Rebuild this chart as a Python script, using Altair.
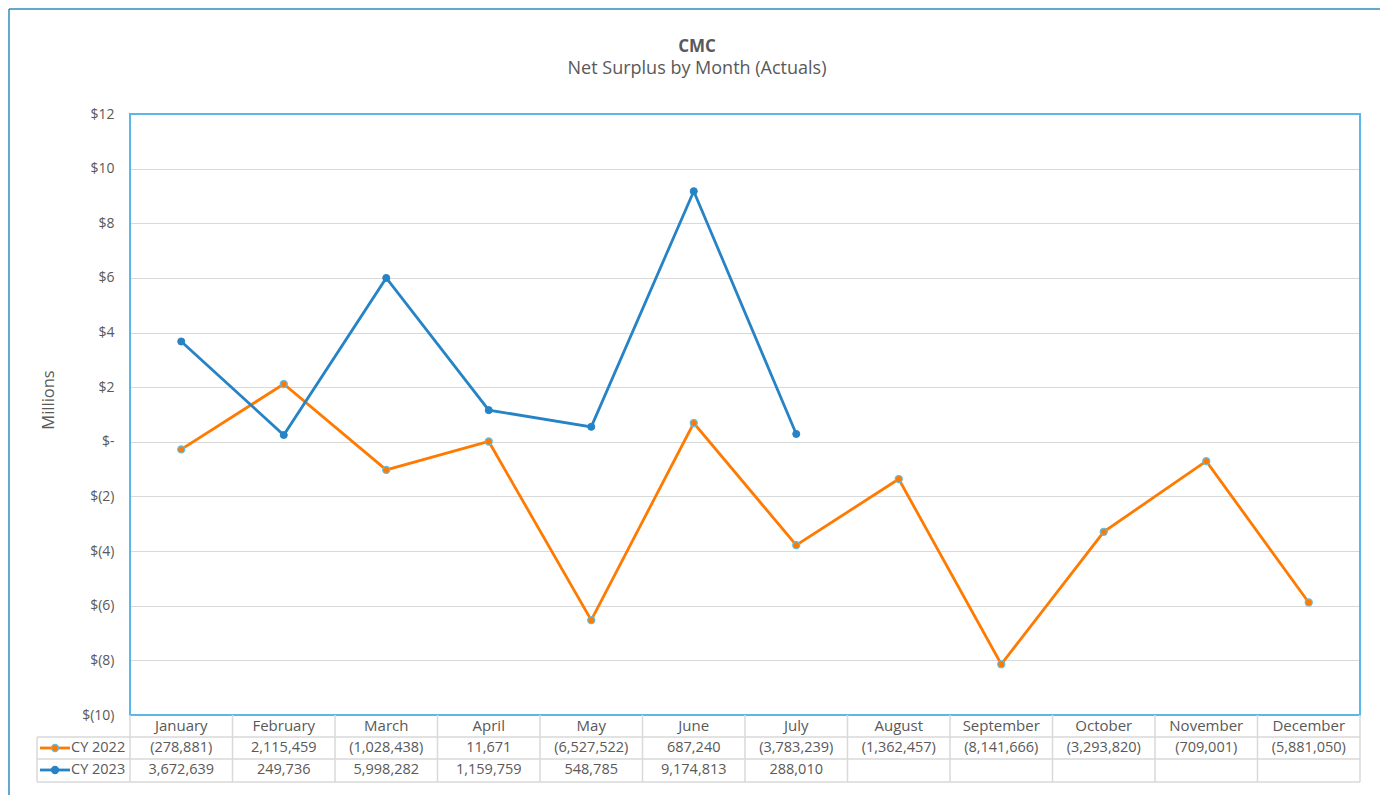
import altair as alt
import pandas as pd

months = ["January", "February", "March", "April", "May", "June", "July",
          "August", "September", "October", "November", "December"]
cy2022 = [-278881, 2115459, -1028438, 11671, -6527522, 687240, -3783239,
          -1362457, -8141666, -3293820, -709001, -5881050]
cy2023 = [3672639, 249736, 5998282, 1159759, 548785, 9174813, 288010,
          None, None, None, None, None]
series_names = ["CY 2022", "CY 2023"]
series_colors = ["#FF7A00", "#2683C6"]
y_ticks = list(range(-10, 13, 2))

FONT = "Open Sans"
TXT = "#595959"
GRID = "#D9D9D9"
W, H = 1230, 601
STEP = W / len(months)


def fmt(v):
    if v is None:
        return ""
    return f"({abs(v):,})" if v < 0 else f"{v:,}"


rows = []
for name, vals in zip(series_names, [cy2022, cy2023]):
    for m, v in zip(months, vals):
        rows.append({"month": m, "series": name,
                     "value": None if v is None else v / 1e6,
                     "label": fmt(v)})
df = pd.DataFrame(rows)
df_valid = df.dropna(subset=["value"])
df_months = pd.DataFrame({"month": months})

xenc = alt.X("month:N", sort=months, scale=alt.Scale(type="point", padding=0.5), axis=None)
one = alt.Data(values=[{"a": 1}])

lines = alt.Chart(df_valid).mark_line(strokeWidth=2.8).encode(
    x=xenc,
    y=alt.Y("value:Q", scale=alt.Scale(domain=[-10, 12], nice=False, zero=False),
            axis=alt.Axis(values=y_ticks, grid=True, gridColor=GRID, gridWidth=1,
                          domain=False, ticks=False, labelFontSize=14,
                          labelColor=TXT, labelPadding=16, title=None,
                          labelFont=FONT,
                          labelExpr="datum.value == 0 ? '$-' : (datum.value < 0 ? '$(' + abs(datum.value) + ')' : '$' + datum.value)")),
    color=alt.Color("series:N", scale=alt.Scale(domain=series_names, range=series_colors), legend=None),
)

pts22 = alt.Chart(df_valid[df_valid.series == "CY 2022"]).mark_point(
    filled=True, size=50, fill="#FF7A00", stroke="#5BC0EB", strokeWidth=1.2, opacity=1
).encode(x=xenc, y="value:Q")
pts23 = alt.Chart(df_valid[df_valid.series == "CY 2023"]).mark_point(
    filled=True, size=50, fill="#2683C6", stroke="#2683C6", strokeWidth=1, opacity=1
).encode(x=xenc, y="value:Q")

border = alt.Chart(one).mark_rect(fillOpacity=0, stroke="#5BB8E6", strokeWidth=2).encode(
    x=alt.value(0), x2=alt.value(W), y=alt.value(0), y2=alt.value(H))

# data table
month_text = alt.Chart(df_months).mark_text(fontSize=15, color=TXT, font=FONT, baseline="middle").encode(
    x=xenc, y=alt.value(H + 11), text="month:N")
val22 = alt.Chart(df[df.series == "CY 2022"]).mark_text(fontSize=14.5, color=TXT, font=FONT, baseline="middle").encode(
    x=xenc, y=alt.value(H + 33), text="label:N")
val23 = alt.Chart(df[df.series == "CY 2023"]).mark_text(fontSize=14.5, color=TXT, font=FONT, baseline="middle").encode(
    x=xenc, y=alt.value(H + 55), text="label:N")

vrules = alt.Chart(df_months).mark_rule(color=GRID, strokeWidth=1.5, xOffset=-STEP / 2).encode(
    x=xenc, y=alt.value(H), y2=alt.value(H + 67))
vend = alt.Chart(one).mark_rule(color=GRID, strokeWidth=1.5).encode(
    x=alt.value(W), y=alt.value(H), y2=alt.value(H + 67))
vleft = alt.Chart(one).mark_rule(color=GRID, strokeWidth=1.5).encode(
    x=alt.value(-93), y=alt.value(H + 22), y2=alt.value(H + 67))
hrules = alt.layer(*[
    alt.Chart(one).mark_rule(color=GRID, strokeWidth=1.5).encode(
        x=alt.value(-93), x2=alt.value(W), y=alt.value(H + dy))
    for dy in (22, 44, 67)
])

# legend keys in table
legend_layers = []
for i, (name, col) in enumerate(zip(series_names, series_colors)):
    yy = H + 33 + 22 * i
    legend_layers.append(alt.Chart(one).mark_rule(color=col, strokeWidth=2.8).encode(
        x=alt.value(-90), x2=alt.value(-60), y=alt.value(yy)))
    legend_layers.append(alt.Chart(one).mark_point(
        filled=True, size=50, fill=col, opacity=1,
        stroke="#5BC0EB" if i == 0 else col, strokeWidth=1.2).encode(
        x=alt.value(-75), y=alt.value(yy)))
    legend_layers.append(alt.Chart(one).mark_text(
        fontSize=14.5, color=TXT, font=FONT, align="left", baseline="middle").encode(
        x=alt.value(-59), y=alt.value(yy), text=alt.value(name)))

# titles
title1 = alt.Chart(one).mark_text(fontSize=17, fontWeight="bold", color=TXT, font=FONT, baseline="middle").encode(
    x=alt.value(567), y=alt.value(-67), text=alt.value("CMC"))
title2 = alt.Chart(one).mark_text(fontSize=18, color=TXT, font=FONT, baseline="middle").encode(
    x=alt.value(567), y=alt.value(-45), text=alt.value("Net Surplus by Month (Actuals)"))
ytitle = alt.Chart(one).mark_text(fontSize=16.5, color=TXT, font=FONT, baseline="middle", angle=270).encode(
    x=alt.value(-81), y=alt.value(286), text=alt.value("Millions"))

# outer frame
frame_top = alt.Chart(one).mark_rule(color="#2E8BC0", strokeWidth=1.5).encode(
    x=alt.value(-121), x2=alt.value(W + 20), y=alt.value(-105))
frame_left = alt.Chart(one).mark_rule(color="#2E8BC0", strokeWidth=1.5).encode(
    x=alt.value(-121), y=alt.value(-105), y2=alt.value(H + 80))

chart = alt.layer(
    lines, pts22, pts23, border,
    vrules, vend, vleft, hrules, month_text, val22, val23,
    *legend_layers, title1, title2, ytitle, frame_top, frame_left
).properties(
    width=W, height=H, autosize="none",
    padding={"left": 122, "top": 106, "right": 20, "bottom": 80},
).configure_view(stroke=None).configure(font=FONT)

chart.save("out.html", embed_options={"renderer": "svg", "actions": False})
